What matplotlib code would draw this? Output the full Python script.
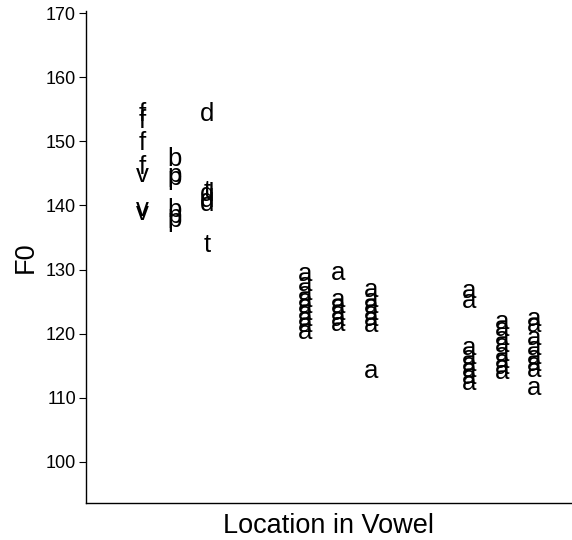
import matplotlib
matplotlib.use("Agg")
import matplotlib.pyplot as plt
from matplotlib.transforms import offset_copy

plt.rcParams['font.family'] = ['Liberation Sans', 'DejaVu Sans']

# F0 measurements at three locations in the vowel; each column is one context
group1_f = [154.5, 153.3, 150.0, 146.2]
group1_v = [144.9, 139.7, 139.1]
group1_b = [147.5, 139.5]
group1_p = [145.0, 144.5, 138.5, 138.0]
group1_d = [154.5, 142.0, 141.0, 140.5]
group1_t = [142.5, 134.0]

group2_a1 = [129.5, 128.0, 126.5, 125.5, 124.5, 123.5, 122.5, 121.5, 120.5]
group2_a2 = [129.7, 125.5, 124.5, 123.5, 122.5, 121.8]
group2_a3 = [127.0, 125.5, 124.5, 123.5, 122.5, 121.5, 114.4]

group3_a1 = [126.9, 125.3, 118.0, 116.5, 115.5, 114.5, 113.5, 112.6]
group3_a2 = [122.0, 121.0, 119.5, 118.5, 117.0, 116.0, 115.0, 114.3]
group3_a3 = [122.5, 121.5, 119.5, 118.0, 116.5, 115.5, 114.5, 111.8]

y_ticks = [100, 110, 120, 130, 140, 150, 160, 170]

columns = [
    (1, -0.2, "f", group1_f), (1, -0.2, "v", group1_v),
    (1, 0.0, "b", group1_b), (1, 0.0, "p", group1_p),
    (1, 0.2, "d", group1_d), (1, 0.2, "t", group1_t),
    (2, -0.2, "a", group2_a1), (2, 0.0, "a", group2_a2), (2, 0.2, "a", group2_a3),
    (3, -0.2, "a", group3_a1), (3, 0.0, "a", group3_a2), (3, 0.2, "a", group3_a3),
]

fig = plt.figure(figsize=(5.72, 5.40), dpi=100)
ax = fig.add_axes([0.150, 0.0685, 0.85, 0.9115])

letter_size = 18.5
# shift glyphs down so the middle of the x-height sits on the data value
trans = offset_copy(ax.transData, fig=fig, x=0, y=-0.26 * letter_size - 1.2, units='points')
for group, offset, letter, values in columns:
    for v in values:
        ax.text(group + offset, v, letter, fontsize=letter_size, ha='center',
                va='baseline', transform=trans, color='black')

ax.set_xlim(0.456, 3.43)
ax.set_ylim(93.6, 170.35)
ax.set_xticks([])
ax.set_yticks(y_ticks)
ax.tick_params(axis='y', direction='out', length=5, width=0.8, labelsize=13, pad=2)
for side in ('top', 'right'):
    ax.spines[side].set_visible(False)
for side in ('left', 'bottom'):
    ax.spines[side].set_linewidth(1.0)

ax.set_ylabel("F0", fontsize=19.5, labelpad=5)
ax.set_xlabel("Location in Vowel", fontsize=19.5, labelpad=7)

fig.savefig("out.png", dpi=100)
